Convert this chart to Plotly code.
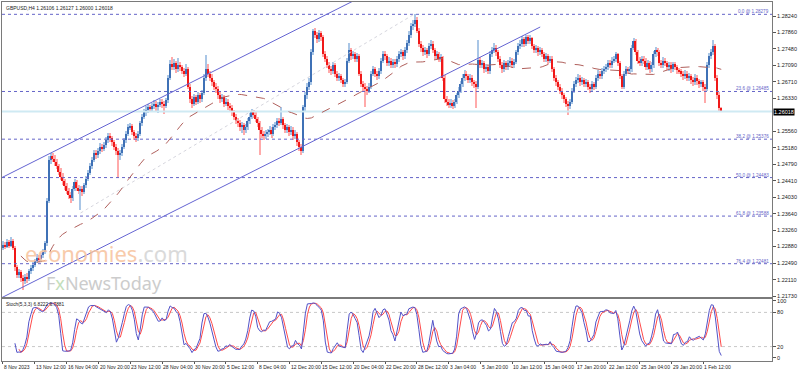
import plotly.graph_objects as go
import pandas as pd

# ---------------- data ----------------
chart_title = "GBPUSD,H4 1.26106 1.26127 1.26000 1.26018"
stoch_title = "Stoch(5,3,3) 6.8222 6.7881"
first_open = 1.2285

close = [
    1.2292, 1.2288, 1.2298, 1.2290, 1.2302, 1.2285, 1.2240, 1.2222, 1.2228, 1.2215,
    1.2208, 1.2218, 1.2212, 1.2230, 1.2238, 1.2245, 1.2255, 1.2262, 1.2258, 1.2268,
    1.2275, 1.2296, 1.2395, 1.2490, 1.2498, 1.2492, 1.2485, 1.2475, 1.2462, 1.2450,
    1.2440, 1.2428, 1.2418, 1.2408, 1.2400, 1.2422, 1.2437, 1.2425, 1.2418, 1.2422,
    1.2415, 1.2430, 1.2445, 1.2460, 1.2475, 1.2490, 1.2505, 1.2500, 1.2510, 1.2520,
    1.2515, 1.2525, 1.2535, 1.2545, 1.2540, 1.2530, 1.2520, 1.2510, 1.2500, 1.2505,
    1.2520, 1.2535, 1.2550, 1.2565, 1.2568, 1.2555, 1.2545, 1.2540, 1.2550, 1.2575,
    1.2590, 1.2600, 1.2605, 1.2612, 1.2608, 1.2615, 1.2620, 1.2612, 1.2618, 1.2625,
    1.2620, 1.2615, 1.2628, 1.2680, 1.2712, 1.2705, 1.2715, 1.2700, 1.2710, 1.2705,
    1.2695, 1.2690, 1.2700, 1.2660, 1.2630, 1.2620, 1.2635, 1.2625, 1.2640, 1.2630,
    1.2645, 1.2680, 1.2700, 1.2690, 1.2680, 1.2670, 1.2660, 1.2655, 1.2640, 1.2630,
    1.2635, 1.2620, 1.2625, 1.2615, 1.2610, 1.2600, 1.2590, 1.2580, 1.2575, 1.2565,
    1.2570, 1.2560, 1.2565, 1.2580, 1.2590, 1.2600, 1.2595, 1.2585, 1.2575, 1.2560,
    1.2550, 1.2545, 1.2550, 1.2555, 1.2560, 1.2550, 1.2565, 1.2570, 1.2580, 1.2575,
    1.2585, 1.2570, 1.2560, 1.2565, 1.2555, 1.2560, 1.2545, 1.2550, 1.2530, 1.2520,
    1.2510, 1.2612, 1.2640, 1.2660, 1.2670, 1.2740, 1.2790, 1.2780, 1.2770, 1.2785,
    1.2775, 1.2735, 1.2725, 1.2710, 1.2700, 1.2695, 1.2710, 1.2690, 1.2680, 1.2685,
    1.2675, 1.2665, 1.2670, 1.2720, 1.2745, 1.2730, 1.2735, 1.2725, 1.2730, 1.2690,
    1.2665, 1.2660, 1.2655, 1.2650, 1.2660, 1.2690, 1.2700, 1.2690, 1.2685, 1.2695,
    1.2720, 1.2735, 1.2730, 1.2715, 1.2720, 1.2710, 1.2718, 1.2712, 1.2725, 1.2735,
    1.2740, 1.2730, 1.2745, 1.2761, 1.2780, 1.2800, 1.2805, 1.2815, 1.2790, 1.2760,
    1.2750, 1.2740, 1.2745, 1.2735, 1.2755, 1.2760, 1.2745, 1.2730, 1.2735, 1.2725,
    1.2728, 1.2680, 1.2630, 1.2625, 1.2618, 1.2622, 1.2615, 1.2625, 1.2640, 1.2650,
    1.2665, 1.2680, 1.2690, 1.2685, 1.2675, 1.2680, 1.2670, 1.2665, 1.2660, 1.2722,
    1.2710, 1.2715, 1.2700, 1.2705, 1.2695, 1.2735, 1.2745, 1.2750, 1.2740, 1.2725,
    1.2710, 1.2700, 1.2715, 1.2705, 1.2715, 1.2720, 1.2710, 1.2718, 1.2740, 1.2755,
    1.2760, 1.2770, 1.2760, 1.2775, 1.2765, 1.2772, 1.2755, 1.2745, 1.2750, 1.2740,
    1.2745, 1.2735, 1.2725, 1.2730, 1.2720, 1.2725, 1.2700, 1.2680, 1.2670, 1.2660,
    1.2650, 1.2640, 1.2630, 1.2620, 1.2615, 1.2625, 1.2650, 1.2665, 1.2675, 1.2680,
    1.2670, 1.2675, 1.2665, 1.2670, 1.2660, 1.2655, 1.2665, 1.2660, 1.2680, 1.2690,
    1.2685, 1.2695, 1.2700, 1.2705, 1.2715, 1.2710, 1.2720, 1.2725, 1.2735, 1.2715,
    1.2685, 1.2660, 1.2690, 1.2700, 1.2695, 1.2700, 1.2750, 1.2765, 1.2740, 1.2720,
    1.2715, 1.2725, 1.2720, 1.2705, 1.2715, 1.2700, 1.2710, 1.2735, 1.2745, 1.2740,
    1.2715, 1.2710, 1.2720, 1.2715, 1.2705, 1.2710, 1.2700, 1.2712, 1.2705, 1.2698,
    1.2695, 1.2690, 1.2685, 1.2690, 1.2680, 1.2685, 1.2675, 1.2670, 1.2680, 1.2672,
    1.2665, 1.2670, 1.2660, 1.2655, 1.2710, 1.2730, 1.2740, 1.2755, 1.2680, 1.2640,
    1.26106, 1.26018,
]

high = [
    1.2301, 1.2298, 1.2305, 1.2303, 1.2310, 1.2306, 1.2290, 1.2245, 1.2236, 1.2233,
    1.2222, 1.2224, 1.2226, 1.2236, 1.2245, 1.2252, 1.2260, 1.2270, 1.2268, 1.2274,
    1.2282, 1.2302, 1.2400, 1.2498, 1.2506, 1.2505, 1.2500, 1.2492, 1.2480, 1.2470,
    1.2458, 1.2446, 1.2435, 1.2425, 1.2414, 1.2428, 1.2445, 1.2442, 1.2430, 1.2428,
    1.2429, 1.2436, 1.2452, 1.2466, 1.2482, 1.2496, 1.2512, 1.2513, 1.2518, 1.2528,
    1.2526, 1.2532, 1.2542, 1.2552, 1.2553, 1.2546, 1.2536, 1.2526, 1.2516, 1.2512,
    1.2526, 1.2540, 1.2556, 1.2572, 1.2576, 1.2574, 1.2560, 1.2552, 1.2556, 1.2580,
    1.2597, 1.2608, 1.2614, 1.2620, 1.2618, 1.2622, 1.2628, 1.2626, 1.2624, 1.2632,
    1.2630, 1.2626, 1.2634, 1.2686, 1.2722, 1.2729, 1.2724, 1.2720, 1.2727, 1.2716,
    1.2710, 1.2702, 1.2712, 1.2705, 1.2666, 1.2638, 1.2642, 1.2640, 1.2648, 1.2646,
    1.2652, 1.2688, 1.2733, 1.2712, 1.2696, 1.2688, 1.2676, 1.2668, 1.2662, 1.2648,
    1.2643, 1.2640, 1.2634, 1.2630, 1.2622, 1.2616, 1.2606, 1.2596, 1.2588, 1.2582,
    1.2578, 1.2576, 1.2572, 1.2588, 1.2598, 1.2608, 1.2606, 1.2600, 1.2590, 1.2580,
    1.2566, 1.2556, 1.2558, 1.2562, 1.2568, 1.2566, 1.2572, 1.2578, 1.2588, 1.2586,
    1.2612, 1.2590, 1.2576, 1.2572, 1.2570, 1.2568, 1.2566, 1.2558, 1.2555, 1.2536,
    1.2526, 1.2618, 1.2648, 1.2668, 1.2680, 1.2748, 1.2793, 1.2795, 1.2786, 1.2792,
    1.2790, 1.2780, 1.2742, 1.2730, 1.2716, 1.2708, 1.2718, 1.2715, 1.2696, 1.2692,
    1.2690, 1.2680, 1.2678, 1.2726, 1.2761, 1.2750, 1.2742, 1.2740, 1.2738, 1.2735,
    1.2696, 1.2672, 1.2668, 1.2662, 1.2668, 1.2696, 1.2708, 1.2706, 1.2696, 1.2702,
    1.2726, 1.2742, 1.2742, 1.2736, 1.2728, 1.2726, 1.2724, 1.2724, 1.2732, 1.2742,
    1.2748, 1.2746, 1.2752, 1.2768, 1.2788, 1.2808, 1.2815, 1.2828, 1.2822, 1.2796,
    1.2766, 1.2756, 1.2752, 1.2750, 1.2762, 1.2768, 1.2766, 1.2750, 1.2742, 1.2740,
    1.2736, 1.2732, 1.2686, 1.2638, 1.2632, 1.2630, 1.2628, 1.2632, 1.2646, 1.2658,
    1.2672, 1.2688, 1.2698, 1.2696, 1.2690, 1.2688, 1.2686, 1.2676, 1.2672, 1.2768,
    1.2728, 1.2722, 1.2720, 1.2712, 1.2710, 1.2742, 1.2752, 1.2761, 1.2756, 1.2746,
    1.2730, 1.2716, 1.2722, 1.2720, 1.2722, 1.2728, 1.2726, 1.2724, 1.2746, 1.2762,
    1.2768, 1.2778, 1.2776, 1.2780, 1.2780, 1.2779, 1.2776, 1.2760, 1.2757, 1.2755,
    1.2752, 1.2750, 1.2740, 1.2738, 1.2735, 1.2732, 1.2730, 1.2706, 1.2686, 1.2676,
    1.2666, 1.2656, 1.2646, 1.2636, 1.2626, 1.2632, 1.2656, 1.2672, 1.2682, 1.2688,
    1.2686, 1.2682, 1.2680, 1.2678, 1.2676, 1.2666, 1.2672, 1.2670, 1.2686, 1.2698,
    1.2696, 1.2702, 1.2708, 1.2712, 1.2722, 1.2722, 1.2728, 1.2732, 1.2740, 1.2738,
    1.2720, 1.2690, 1.2696, 1.2708, 1.2706, 1.2708, 1.2756, 1.2773, 1.2770, 1.2746,
    1.2728, 1.2732, 1.2730, 1.2726, 1.2722, 1.2720, 1.2718, 1.2742, 1.2752, 1.2750,
    1.2746, 1.2722, 1.2728, 1.2726, 1.2720, 1.2716, 1.2716, 1.2718, 1.2718, 1.2710,
    1.2704, 1.2700, 1.2696, 1.2698, 1.2695, 1.2692, 1.2690, 1.2682, 1.2688, 1.2686,
    1.2678, 1.2676, 1.2676, 1.2666, 1.2716, 1.2738, 1.2748, 1.2768, 1.2760, 1.2686,
    1.2648, 1.26127,
]

low = [
    1.2279, 1.2282, 1.2284, 1.2285, 1.2286, 1.2280, 1.2232, 1.2215, 1.2216, 1.2206,
    1.2187, 1.2200, 1.2204, 1.2208, 1.2224, 1.2232, 1.2240, 1.2250, 1.2252, 1.2254,
    1.2262, 1.2270, 1.2290, 1.2390, 1.2480, 1.2484, 1.2476, 1.2468, 1.2455, 1.2442,
    1.2432, 1.2420, 1.2410, 1.2398, 1.2390, 1.2395, 1.2416, 1.2418, 1.2410, 1.2373,
    1.2406, 1.2410, 1.2424, 1.2440, 1.2454, 1.2468, 1.2484, 1.2492, 1.2494, 1.2504,
    1.2508, 1.2510, 1.2518, 1.2528, 1.2532, 1.2522, 1.2512, 1.2500, 1.2447, 1.2490,
    1.2498, 1.2514, 1.2528, 1.2544, 1.2558, 1.2548, 1.2536, 1.2532, 1.2534, 1.2545,
    1.2568, 1.2584, 1.2592, 1.2598, 1.2600, 1.2602, 1.2608, 1.2604, 1.2598, 1.2612,
    1.2610, 1.2596, 1.2610, 1.2622, 1.2675, 1.2698, 1.2698, 1.2692, 1.2694, 1.2696,
    1.2688, 1.2682, 1.2684, 1.2654, 1.2622, 1.2610, 1.2614, 1.2616, 1.2620, 1.2622,
    1.2624, 1.2640, 1.2674, 1.2682, 1.2672, 1.2662, 1.2652, 1.2646, 1.2632, 1.2622,
    1.2624, 1.2612, 1.2614, 1.2606, 1.2600, 1.2592, 1.2582, 1.2572, 1.2566, 1.2556,
    1.2552, 1.2548, 1.2552, 1.2558, 1.2574, 1.2584, 1.2588, 1.2578, 1.2566, 1.2501,
    1.2540, 1.2536, 1.2538, 1.2542, 1.2548, 1.2540, 1.2544, 1.2558, 1.2564, 1.2568,
    1.2570, 1.2562, 1.2552, 1.2552, 1.2546, 1.2548, 1.2536, 1.2538, 1.2522, 1.2510,
    1.2501, 1.2505, 1.2604, 1.2632, 1.2652, 1.2664, 1.2734, 1.2772, 1.2762, 1.2764,
    1.2766, 1.2728, 1.2716, 1.2702, 1.2692, 1.2686, 1.2688, 1.2682, 1.2672, 1.2674,
    1.2668, 1.2658, 1.2660, 1.2665, 1.2714, 1.2722, 1.2724, 1.2718, 1.2718, 1.2684,
    1.2658, 1.2650, 1.2612, 1.2640, 1.2644, 1.2655, 1.2684, 1.2682, 1.2676, 1.2678,
    1.2690, 1.2714, 1.2722, 1.2708, 1.2708, 1.2702, 1.2704, 1.2704, 1.2706, 1.2718,
    1.2728, 1.2722, 1.2724, 1.2738, 1.2754, 1.2774, 1.2792, 1.2798, 1.2784, 1.2752,
    1.2740, 1.2732, 1.2734, 1.2726, 1.2730, 1.2748, 1.2738, 1.2722, 1.2724, 1.2718,
    1.2718, 1.2674, 1.2622, 1.2614, 1.2610, 1.2610, 1.2608, 1.2610, 1.2620, 1.2634,
    1.2644, 1.2660, 1.2674, 1.2676, 1.2668, 1.2668, 1.2662, 1.2656, 1.2610, 1.2654,
    1.2702, 1.2704, 1.2692, 1.2694, 1.2688, 1.2690, 1.2728, 1.2738, 1.2732, 1.2718,
    1.2702, 1.2692, 1.2694, 1.2698, 1.2698, 1.2708, 1.2702, 1.2704, 1.2712, 1.2734,
    1.2748, 1.2752, 1.2752, 1.2754, 1.2758, 1.2758, 1.2748, 1.2738, 1.2738, 1.2732,
    1.2734, 1.2728, 1.2718, 1.2718, 1.2712, 1.2714, 1.2694, 1.2672, 1.2662, 1.2652,
    1.2642, 1.2632, 1.2622, 1.2612, 1.2594, 1.2608, 1.2620, 1.2644, 1.2658, 1.2668,
    1.2662, 1.2664, 1.2658, 1.2658, 1.2652, 1.2646, 1.2648, 1.2652, 1.2654, 1.2674,
    1.2678, 1.2678, 1.2688, 1.2694, 1.2698, 1.2702, 1.2704, 1.2714, 1.2718, 1.2708,
    1.2678, 1.2654, 1.2655, 1.2684, 1.2688, 1.2688, 1.2694, 1.2744, 1.2734, 1.2712,
    1.2708, 1.2708, 1.2712, 1.2698, 1.2698, 1.2692, 1.2694, 1.2704, 1.2728, 1.2732,
    1.2708, 1.2702, 1.2704, 1.2708, 1.2698, 1.2696, 1.2692, 1.2694, 1.2698, 1.2690,
    1.2688, 1.2682, 1.2676, 1.2678, 1.2672, 1.2674, 1.2666, 1.2662, 1.2664, 1.2664,
    1.2656, 1.2658, 1.2650, 1.2622, 1.2650, 1.2704, 1.2724, 1.2734, 1.2672, 1.2632,
    1.2600, 1.26000,
]

time_label_bars = [0, 16, 32, 48, 64, 80, 96, 112, 128, 144, 160, 176, 192,
                   208, 224, 240, 256, 272, 288, 304, 320, 336, 352]
time_labels = ["8 Nov 2023", "13 Nov 12:00", "16 Nov 04:00", "20 Nov 20:00",
               "23 Nov 12:00", "28 Nov 04:00", "30 Nov 20:00", "5 Dec 12:00",
               "8 Dec 04:00", "12 Dec 20:00", "15 Dec 12:00", "20 Dec 04:00",
               "22 Dec 20:00", "28 Dec 12:00", "3 Jan 04:00", "5 Jan 20:00",
               "10 Jan 12:00", "15 Jan 04:00", "17 Jan 20:00", "22 Jan 12:00",
               "25 Jan 04:00", "29 Jan 20:00", "1 Feb 12:00"]

price_ticks = [1.28240, 1.27860, 1.27480, 1.27090, 1.26710, 1.26330, 1.25560,
               1.25180, 1.24790, 1.24410, 1.24030, 1.23640, 1.23260, 1.22880,
               1.22490, 1.22110, 1.21730]
stoch_ticks = [0, 20, 80, 100]
stoch_levels = [20, 80]

fib_levels = ["0.0", "23.6", "38.2", "50.0", "61.8", "76.4"]
fib_prices = [1.28279, 1.26485, 1.25376, 1.24483, 1.23588, 1.22481]

# channel / trend lines: anchor points (bar index, price)
upper_channel_bars = [-1, 177]
upper_channel_prices = [1.24473, 1.28612]
lower_channel_bars = [-1, 270]
lower_channel_prices = [1.21683, 1.27984]
guide_bars = [39, 206]
guide_prices = [1.23660, 1.28263]

last_price = 1.26018

# ---------------- derived series ----------------
n = len(close)
bars = list(range(n))
opens = [first_open] + close[:-1]

s_close = pd.Series(close)
s_high = pd.Series(high)
s_low = pd.Series(low)
ma50 = s_close.rolling(50, min_periods=10).mean()

ll = s_low.rolling(5).min()
hh = s_high.rolling(5).max()
k_line = 100 * (s_close - ll).rolling(3).sum() / (hh - ll).rolling(3).sum()
d_line = k_line.rolling(3).mean()

bull = [c >= o for o, c in zip(opens, close)]
body_base = [min(o, c) for o, c in zip(opens, close)]
body_h = [max(abs(c - o), 0.00004) for o, c in zip(opens, close)]
wick_h = [h - l for h, l in zip(high, low)]

BULL_BODY, BULL_WICK = "#3f71b6", "#a9c6e6"
BEAR_BODY, BEAR_WICK = "#f01818", "#ffaaaa"
FIB_COL = "#6464c8"
CH_COL = "#6464d2"
FRAME = "#7a7a7a"
FONT = "Liberation Sans, Arial, sans-serif"

x_range = [-0.5, 386.5]
y_range = [1.21707, 1.285655]
s_range = [-5.3, 103.5]

fig = go.Figure()

# fib dotted levels
for p in fib_prices:
    fig.add_trace(go.Scatter(x=x_range, y=[p, p], mode="lines",
                             line=dict(color=FIB_COL, width=1, dash="dot"),
                             hoverinfo="skip", xaxis="x", yaxis="y"))
# current price line
fig.add_trace(go.Scatter(x=x_range, y=[last_price, last_price], mode="lines",
                         line=dict(color="#cfeaf3", width=2),
                         hoverinfo="skip", xaxis="x", yaxis="y"))
# faint guide line
fig.add_trace(go.Scatter(x=guide_bars, y=guide_prices, mode="lines",
                         line=dict(color="#d6d6de", width=1, dash="dot"),
                         hoverinfo="skip"))
# channel
fig.add_trace(go.Scatter(x=upper_channel_bars, y=upper_channel_prices, mode="lines",
                         line=dict(color=CH_COL, width=1), hoverinfo="skip"))
fig.add_trace(go.Scatter(x=lower_channel_bars, y=lower_channel_prices, mode="lines",
                         line=dict(color=CH_COL, width=1), hoverinfo="skip"))

# candles: wicks then bodies
fig.add_trace(go.Bar(x=bars, y=wick_h, base=low, width=0.6,
                     marker=dict(color=[BULL_WICK if b else BEAR_WICK for b in bull],
                                 line=dict(width=0)),
                     hoverinfo="skip"))
fig.add_trace(go.Bar(x=bars, y=body_h, base=body_base, width=0.75,
                     marker=dict(color=[BULL_BODY if b else BEAR_BODY for b in bull],
                                 line=dict(width=0)),
                     hoverinfo="skip"))

# moving average
fig.add_trace(go.Scatter(x=bars, y=ma50, mode="lines",
                         line=dict(color="#b0605c", width=1, dash="dash"),
                         hoverinfo="skip"))

# stochastic
for lv in stoch_levels:
    fig.add_trace(go.Scatter(x=x_range, y=[lv, lv], mode="lines", xaxis="x2", yaxis="y2",
                             line=dict(color="#c8c8c8", width=1, dash="dot"),
                             hoverinfo="skip"))
fig.add_trace(go.Scatter(x=bars, y=d_line, mode="lines", xaxis="x2", yaxis="y2",
                         line=dict(color="#ff4a4a", width=1), hoverinfo="skip"))
fig.add_trace(go.Scatter(x=bars, y=k_line, mode="lines", xaxis="x2", yaxis="y2",
                         line=dict(color="#5252c8", width=1), hoverinfo="skip"))

ann = []
ann.append(dict(text=chart_title, xref="paper", yref="paper", x=0.003, y=1,
                xanchor="left", yanchor="top", yshift=-1, showarrow=False,
                font=dict(size=5, color="#222", family=FONT)))
for lv, p in zip(fib_levels, fib_prices):
    ann.append(dict(text=f"{lv} @ {p:.5f}", xref="x", yref="y", x=x_range[1], y=p,
                    xanchor="right", yanchor="bottom", xshift=-1, yshift=-2,
                    showarrow=False, font=dict(size=4.6, color=FIB_COL, family=FONT)))
ann.append(dict(text=f"{last_price:.5f}", xref="paper", yref="y", x=1, y=last_price,
                xanchor="left", yanchor="middle", xshift=1, showarrow=False,
                bgcolor="#000000", borderpad=0,
                font=dict(size=5.5, color="#ffffff", family=FONT)))
for b, t in zip(time_label_bars, time_labels):
    ann.append(dict(text=t, xref="x2", yref="paper", x=b, y=0, xanchor="left",
                    yanchor="top", xshift=-1, yshift=-1, showarrow=False,
                    font=dict(size=5, color="#222", family=FONT)))
ann.append(dict(text=stoch_title, xref="paper", yref="paper", x=0.003, y=0.1727,
                xanchor="left", yanchor="top", yshift=-1, showarrow=False,
                font=dict(size=4.8, color="#222", family=FONT)))
# watermark
ann.append(dict(text="<span style='color:#f7c29c'>economies</span><span style='color:#d4d4d4'>.com</span>",
                xref="paper", yref="paper", x=0.029, y=0.302, xanchor="left",
                yanchor="middle", showarrow=False, opacity=0.85, borderpad=0,
                font=dict(size=22, family="Noto Sans, sans-serif")))
ann.append(dict(text="F<span style='color:#b9d9b0'>x</span>NewsToday",
                xref="paper", yref="paper", x=0.056, y=0.216, xanchor="left",
                yanchor="middle", showarrow=False, opacity=0.85, borderpad=0,
                font=dict(size=18, color="#c4c4c4", family="Noto Sans, sans-serif")))

axis_common = dict(showgrid=False, zeroline=False, showline=True, mirror=True,
                   linecolor=FRAME, linewidth=1)

fig.update_layout(
    width=798, height=371,
    margin=dict(l=1, r=23, t=2, b=10),
    paper_bgcolor="white", plot_bgcolor="white",
    showlegend=False, barmode="overlay", bargap=0,
    font=dict(family=FONT, size=5.5, color="#222"),
    xaxis=dict(domain=[0, 1], range=x_range, anchor="y", showticklabels=False,
               ticks="", **axis_common),
    yaxis=dict(domain=[0.1783, 1], range=y_range, side="right", anchor="x",
               tickvals=price_ticks, ticktext=[f"{v:.5f}" for v in price_ticks],
               ticks="outside", ticklen=3, tickcolor="#555",
               tickfont=dict(size=5.5, color="#222", family=FONT), **axis_common),
    xaxis2=dict(domain=[0, 1], range=x_range, anchor="y2", showticklabels=False,
                tickvals=time_label_bars, ticks="outside", ticklen=2, tickcolor="#555",
                **axis_common),
    yaxis2=dict(domain=[0, 0.1727], range=s_range, side="right", anchor="x2",
                tickvals=stoch_ticks, ticks="outside", ticklen=3, tickcolor="#555",
                tickfont=dict(size=5.5, color="#222", family=FONT), **axis_common),
    annotations=ann,
)

fig.write_html("out.html", config={"displayModeBar": False},
               post_script="document.body.style.margin='0';document.body.style.overflow='hidden';")
